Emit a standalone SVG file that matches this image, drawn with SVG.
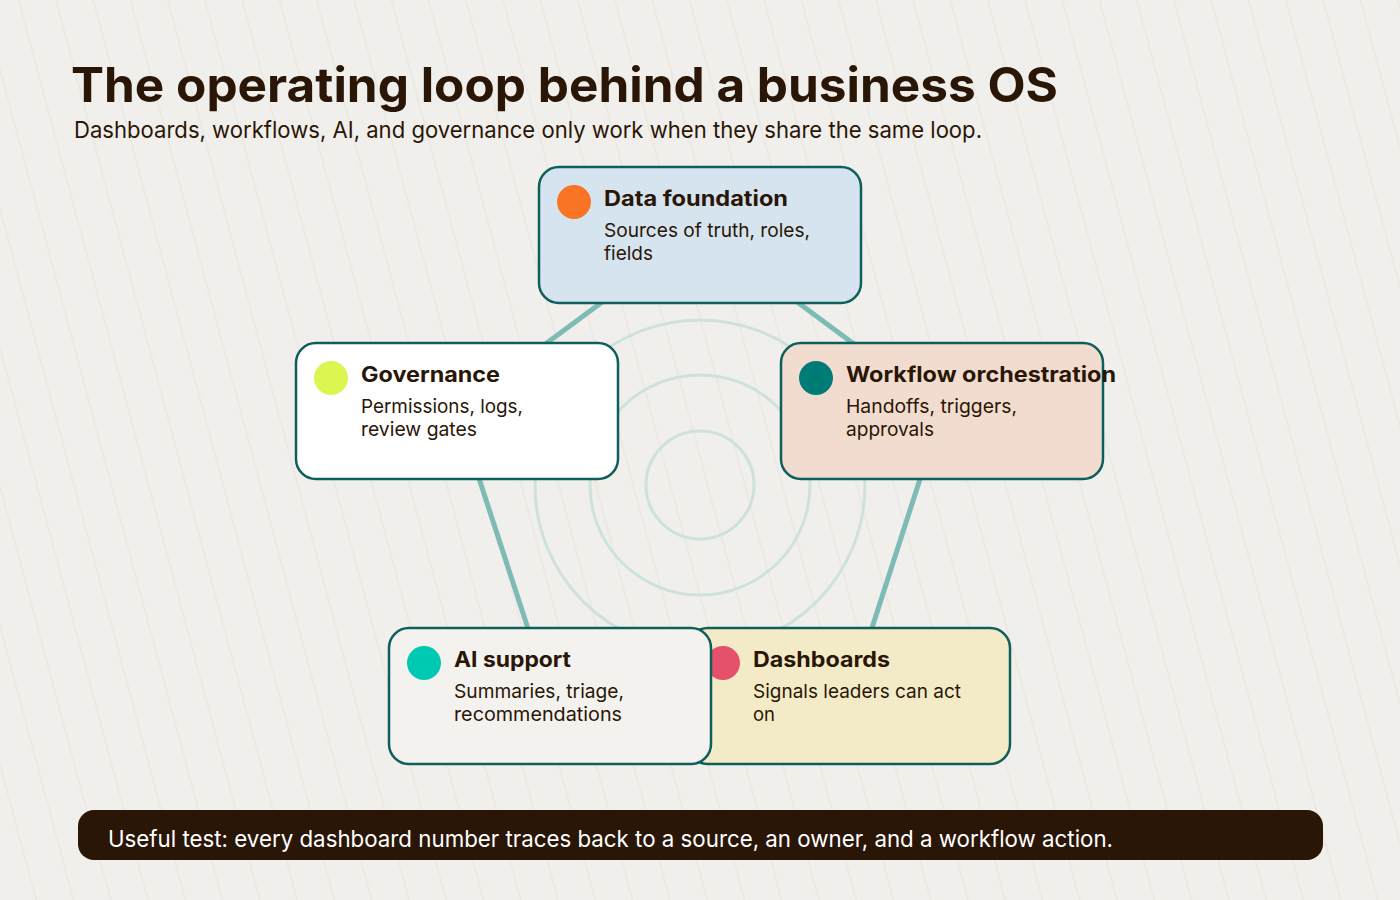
<svg xmlns="http://www.w3.org/2000/svg" width="1400" height="900" viewBox="0 0 1400 900">
  <defs>
    <pattern id="bgLines" patternUnits="userSpaceOnUse" width="36" height="900" patternTransform="rotate(-15)">
      <line x1="18" y1="0" x2="18" y2="900" stroke="#e6e3de" stroke-width="1"/>
    </pattern>
    <style>
      .box { stroke: #0d5f5b; stroke-width: 2.5; }
      .ttl { font-family: Inter, "Liberation Sans", sans-serif; font-weight: 700; font-size: 21px; fill: #2a1606; }
      .sub { font-family: Inter, "Liberation Sans", sans-serif; font-weight: 400; font-size: 19px; fill: #2a1606; }
      .conn { stroke: #7fbbb5; stroke-width: 5; fill: none; }
      .ring { stroke: #cfe1dd; stroke-width: 3; fill: none; }
    </style>
  </defs>
  <rect width="1400" height="900" fill="#f1efeb"/>
  <rect width="1400" height="900" fill="url(#bgLines)"/>

  <text x="71" y="102" font-family="Inter, 'Liberation Sans', sans-serif" font-weight="700" font-size="48" fill="#2a1606" textLength="987" lengthAdjust="spacingAndGlyphs">The operating loop behind a business OS</text>
  <text x="74" y="138" font-family="Inter, 'Liberation Sans', sans-serif" font-size="23" fill="#2a1606" textLength="908" lengthAdjust="spacingAndGlyphs">Dashboards, workflows, AI, and governance only work when they share the same loop.</text>

  <g id="rings">
    <circle class="ring" cx="700" cy="485" r="165"/>
    <circle class="ring" cx="700" cy="485" r="110"/>
    <circle class="ring" cx="700" cy="485" r="54" stroke="#c6dcd7"/>
  </g>

  <g id="connectors">
    <line class="conn" x1="697" y1="232" x2="452" y2="413"/>
    <line class="conn" x1="703" y1="232" x2="947" y2="413"/>
    <line class="conn" x1="457" y1="411" x2="550" y2="696"/>
    <line class="conn" x1="942" y1="411" x2="850" y2="696"/>
    <line class="conn" x1="550" y1="696" x2="850" y2="696"/>
  </g>

  <g id="node-data">
    <rect class="box" x="539" y="167" width="322" height="136" rx="20" fill="#d5e4ef"/>
    <circle cx="574" cy="202" r="17" fill="#f97424"/>
    <text class="ttl" x="604" y="206" textLength="184" lengthAdjust="spacingAndGlyphs">Data foundation</text>
    <text class="sub" x="604" y="237" textLength="206" lengthAdjust="spacingAndGlyphs">Sources of truth, roles,</text>
    <text class="sub" x="604" y="260" textLength="49" lengthAdjust="spacingAndGlyphs">fields</text>
  </g>

  <g id="node-governance">
    <rect class="box" x="296" y="343" width="322" height="136" rx="20" fill="#ffffff"/>
    <circle cx="331" cy="378" r="17" fill="#dcf550"/>
    <text class="ttl" x="361" y="382" textLength="139" lengthAdjust="spacingAndGlyphs">Governance</text>
    <text class="sub" x="361" y="413" textLength="162" lengthAdjust="spacingAndGlyphs">Permissions, logs,</text>
    <text class="sub" x="361" y="436" textLength="116" lengthAdjust="spacingAndGlyphs">review gates</text>
  </g>

  <g id="node-workflow">
    <rect class="box" x="781" y="343" width="322" height="136" rx="20" fill="#f2dccf"/>
    <circle cx="816" cy="378" r="17" fill="#007c78"/>
    <text class="ttl" x="846" y="382" textLength="270" lengthAdjust="spacingAndGlyphs">Workflow orchestration</text>
    <text class="sub" x="846" y="413" textLength="171" lengthAdjust="spacingAndGlyphs">Handoffs, triggers,</text>
    <text class="sub" x="846" y="436" textLength="88" lengthAdjust="spacingAndGlyphs">approvals</text>
  </g>

  <g id="node-dashboards">
    <rect class="box" x="688" y="628" width="322" height="136" rx="20" fill="#f3ebc8"/>
    <circle cx="723" cy="663" r="17" fill="#e5506a"/>
    <text class="ttl" x="753" y="667" textLength="137" lengthAdjust="spacingAndGlyphs">Dashboards</text>
    <text class="sub" x="753" y="698" textLength="208" lengthAdjust="spacingAndGlyphs">Signals leaders can act</text>
    <text class="sub" x="753" y="721" textLength="22" lengthAdjust="spacingAndGlyphs">on</text>
  </g>

  <g id="node-ai">
    <rect class="box" x="389" y="628" width="322" height="136" rx="20" fill="#f4f2ee"/>
    <circle cx="424" cy="663" r="17" fill="#00c9b1"/>
    <text class="ttl" x="454" y="667" textLength="117" lengthAdjust="spacingAndGlyphs">AI support</text>
    <text class="sub" x="454" y="698" textLength="170" lengthAdjust="spacingAndGlyphs">Summaries, triage,</text>
    <text class="sub" x="454" y="721" textLength="168" lengthAdjust="spacingAndGlyphs">recommendations</text>
  </g>

  <g id="footer">
    <rect x="78" y="810" width="1245" height="50" rx="16" fill="#2a1606"/>
    <text x="108" y="847" font-family="Inter, 'Liberation Sans', sans-serif" font-size="23" fill="#ffffff" textLength="1005" lengthAdjust="spacingAndGlyphs">Useful test: every dashboard number traces back to a source, an owner, and a workflow action.</text>
  </g>
</svg>
